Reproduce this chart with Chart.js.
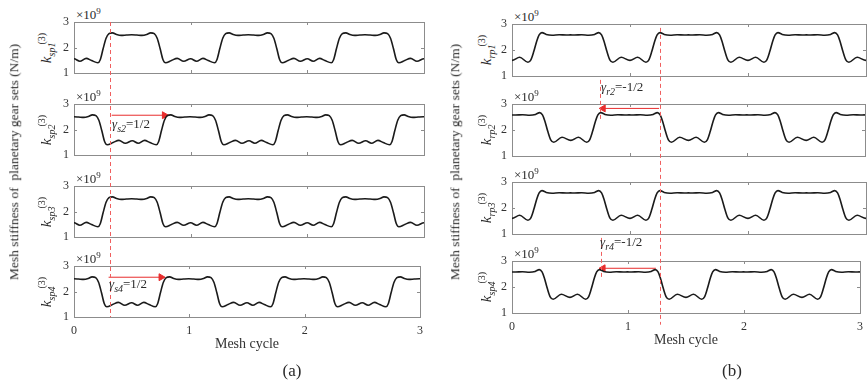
<!DOCTYPE html>
<html>
<head>
<meta charset="utf-8">
<script src="https://cdn.jsdelivr.net/npm/chart.js@4.4.1/dist/chart.umd.min.js"></script>
<style>
  body{margin:0;background:#fff;width:868px;height:386px;position:relative;overflow:hidden;
       font-family:"Liberation Serif","Times New Roman",serif;color:#2a2a2a}
  canvas{position:absolute;top:0}
  .lbl{position:absolute;white-space:nowrap;line-height:1}
  .rot{transform:translate(-50%,-50%) rotate(-90deg)}
  .ctr{transform:translate(-50%,-50%)}
  .k{font-size:15px}
  .k sub,.k sup{font-size:10px}
  .mag{font-size:13px}
  .mag sup{font-size:9px;vertical-align:5px}
  .gam{font-size:13px}
  .gam sub{font-size:10px}
</style>
</head>
<body>
<script>
// one mesh cycle of each stiffness curve
// x in mesh cycles, k in 1e9 N/m
const cycleA_x = [0, .05, .105, .15, .205, .225, .25, .275, .30, .33, .365, .405, .45, .494, .538, .583, .623, .657, .688, .713, .738, .763, .785, .835, .885, .94];
const cycleA_k = [1.56, 1.46, 1.575, 1.49, 1.40, 1.52, 1.96, 2.36, 2.54, 2.575, 2.51, 2.475, 2.49, 2.50, 2.49, 2.475, 2.51, 2.575, 2.54, 2.36, 1.96, 1.52, 1.40, 1.49, 1.575, 1.46];
const cycleB_x = [0, .065, .135, .16, .185, .21, .23, .254, .29, .34, .40, .46, .495, .53, .59, .65, .70, .735, .759, .779, .804, .829, .855, .925];
const cycleB_k = [1.60, 1.72, 1.53, 1.62, 1.95, 2.35, 2.58, 2.67, 2.60, 2.57, 2.585, 2.575, 2.58, 2.575, 2.585, 2.57, 2.60, 2.67, 2.58, 2.35, 1.95, 1.62, 1.53, 1.72];

// phase of each planet's curve (gamma), in mesh cycles
const phaseA = [0, 0.5, 0, 0.5];
const phaseB = [0, -0.5, 0, -0.5];

const subA = ['sp1', 'sp2', 'sp3', 'sp4'];
const subB = ['rp1', 'rp2', 'rp3', 'sp4'];
const xTicks = [0, 1, 2, 3];
const yTicks = [1, 2, 3];

// red dashed guides: [x, from subplot, k there, to subplot, k there]
const guidesA = [[0.31, 0, 3, 3, 1]];
const guidesB = [[1.25, 0, 2.85, 3, 0.55], [0.745, 0, 0.85, 1, 2.37], [0.75, 2, 0.85, 3, 2.27]];
// red arrows: [subplot, x0, k0, x1, k1]
const arrowsA = [[1, 0.323, 2.56, 0.775, 2.56], [3, 0.30, 2.56, 0.755, 2.56]];
const arrowsB = [[1, 1.25, 2.83, 0.775, 2.83], [3, 1.24, 2.72, 0.785, 2.72]];

const H = 386;
const panels = [
  {name: 'a', left: 0, width: 430, plotL: 74, plotR: 424, tops: [22, 104, 186, 266], h: 51,
   xs: cycleA_x, ks: cycleA_k, phase: phaseA, sub: subA, guides: guidesA, arrows: arrowsA,
   kx: 47, ylab: 14, gam: [[112, 117, 's2', '1/2'], [109, 277, 's4', '1/2']]},
  {name: 'b', left: 440, width: 430, plotL: 512, plotR: 866, tops: [24, 104, 182, 261], h: 52,
   xs: cycleB_x, ks: cycleB_k, phase: phaseB, sub: subB, guides: guidesB, arrows: arrowsB,
   kx: 487, ylab: 455, gam: [[601, 80, 'r2', '-1/2'], [600, 235, 'r4', '-1/2']]}
];

// repeat the read cycle over the 3 plotted cycles
function tile(xs, ks, phase){
  const pts = [];
  for(let c = -1; c <= 3; c++){
    xs.forEach((x, i) => { const t = x + c + phase; if(t > -0.2 && t < 3.2) pts.push({x: t, y: ks[i]}); });
  }
  return pts;
}

const frame = {
  id: 'frame',
  beforeDatasetsDraw(chart){
    const {ctx, chartArea: a, scales: {x, y}} = chart;
    ctx.save();
    ctx.strokeStyle = '#8c8c8c'; ctx.lineWidth = 1;
    ctx.strokeRect(a.left + 0.5, a.top + 0.5, a.right - a.left, a.bottom - a.top);
    ctx.beginPath();
    xTicks.forEach(v => { const p = Math.round(x.getPixelForValue(v)) + 0.5;
      ctx.moveTo(p, a.bottom); ctx.lineTo(p, a.bottom - 3); ctx.moveTo(p, a.top); ctx.lineTo(p, a.top + 3); });
    yTicks.forEach(v => { const p = Math.round(y.getPixelForValue(v)) + 0.5;
      ctx.moveTo(a.left, p); ctx.lineTo(a.left + 3, p); ctx.moveTo(a.right, p); ctx.lineTo(a.right - 3, p); });
    ctx.stroke();
    ctx.restore();
  }
};

Chart.defaults.font.family = '"Liberation Serif", "Times New Roman", serif';
Chart.defaults.color = '#333';

function addLabel(html, cls, x, y){
  const d = document.createElement('div');
  d.className = 'lbl ' + cls;
  d.style.left = x + 'px'; d.style.top = y + 'px';
  d.innerHTML = html;
  document.body.appendChild(d);
}

function newCanvas(p){
  const cv = document.createElement('canvas');
  cv.width = p.width; cv.height = H;
  cv.style.left = p.left + 'px';
  document.body.appendChild(cv);
  return cv;
}

panels.forEach(p => {
  const charts = p.tops.map((top, i) => {
    const last = i === 3;
    const datasets = [{
      data: tile(p.xs, p.ks, p.phase[i]),
      borderColor: '#1b1b1b', borderWidth: 1.6, pointRadius: 0,
      showLine: true, cubicInterpolationMode: 'monotone'
    }];
    p.arrows.filter(g => g[0] === i).forEach(g => datasets.push({
      data: [{x: g[1], y: g[2]}, {x: g[3], y: g[4]}],
      borderColor: 'rgb(232,45,45)', backgroundColor: 'rgb(232,45,45)', borderWidth: 1,
      pointRadius: [0, 4], pointStyle: 'triangle', rotation: g[3] > g[1] ? 90 : -90,
      showLine: true, clip: false
    }));

    addLabel('<i>k</i><sub><i>' + p.sub[i] + '</i></sub><sup style="margin-left:-2px">(3)</sup>', 'k rot', p.kx, top + p.h / 2);
    addLabel('×10<sup>9</sup>', 'mag', p.plotL + 2, top - 15);

    return new Chart(newCanvas(p), {
      type: 'scatter',
      data: {datasets},
      options: {
        responsive: false, animation: false, events: [],
        layout: {padding: {left: p.plotL - p.left - 30, right: p.left + p.width - p.plotR,
                           top: top, bottom: H - top - p.h - (last ? 40 : 0)}},
        plugins: {legend: {display: false}, tooltip: {enabled: false}},
        scales: {
          x: {type: 'linear', min: 0, max: 3, display: last,
              grid: {display: false, drawTicks: false}, border: {display: false},
              ticks: {stepSize: 1, padding: 7, font: {size: 12}},
              title: {display: last, text: 'Mesh cycle', font: {size: 14}, padding: {top: 0, bottom: 4}},
              afterFit: s => { s.height = last ? 40 : 0; }},
          y: {min: 1, max: 3,
              grid: {display: false, drawTicks: false}, border: {display: false},
              ticks: {stepSize: 1, padding: 5, font: {size: 12}},
              afterFit: s => { s.width = 30; }}
        }
      },
      plugins: [frame]
    });
  });

  // dashed guides that run across subplots, placed with the subplots' own scales
  const ctx = newCanvas(p).getContext('2d');
  ctx.strokeStyle = 'rgb(240,95,95)'; ctx.lineWidth = 1; ctx.setLineDash([4, 3]);
  p.guides.forEach(g => {
    const px = Math.round(charts[g[1]].scales.x.getPixelForValue(g[0])) + 0.5;
    ctx.beginPath();
    ctx.moveTo(px, charts[g[1]].scales.y.getPixelForValue(g[2]));
    ctx.lineTo(px, charts[g[3]].scales.y.getPixelForValue(g[4]));
    ctx.stroke();
  });

  p.gam.forEach(g => addLabel('<i>γ</i><sub><i>' + g[2] + '</i></sub>=' + g[3], 'gam', g[0], g[1]));
  addLabel('Mesh stiffness of&nbsp; planetary gear sets (N/m)', 'rot', p.ylab, 162);
  addLabel('(' + p.name + ')', 'ctr', (p.plotL + p.plotR) / 2 + 43, 370);
});
document.querySelectorAll('.rot').forEach(e => { if(!e.classList.contains('k')) e.style.fontSize = '13.5px'; });
document.querySelectorAll('.ctr').forEach(e => { e.style.fontSize = '17px'; });
</script>
</body>
</html>
